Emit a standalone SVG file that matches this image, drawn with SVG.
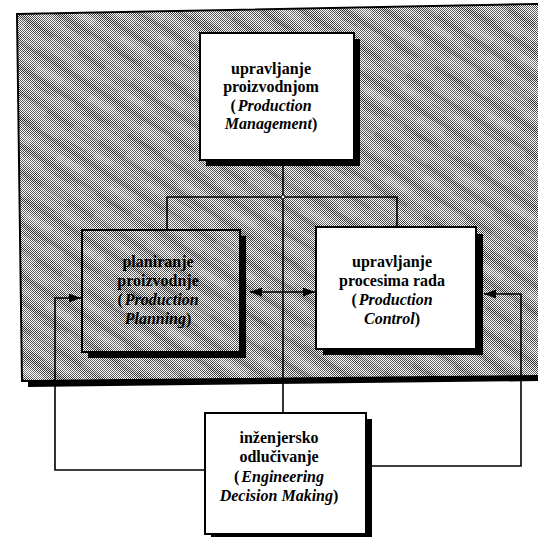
<svg xmlns="http://www.w3.org/2000/svg" width="538" height="537" viewBox="0 0 538 537">
  <defs>
    <!-- 1px dither (50% grey) -->
    <pattern id="dither" width="2" height="2" patternUnits="userSpaceOnUse">
      <rect width="2" height="2" fill="#ffffff"/>
      <rect x="0" y="0" width="1" height="1" fill="#000000"/>
      <rect x="1" y="1" width="1" height="1" fill="#000000"/>
    </pattern>
    <!-- diagonal streaks over the dither -->
    <pattern id="streaks" width="22" height="22" patternUnits="userSpaceOnUse" patternTransform="rotate(32)">
      <rect width="22" height="22" fill="#ffffff" fill-opacity="0.24"/>
      <rect x="0" y="0" width="22" height="5" fill="#000000" fill-opacity="0.14"/>
      <rect x="0" y="10" width="22" height="7" fill="#ffffff" fill-opacity="0.18"/>
    </pattern>
    <!-- softer, wider mottling -->
    <pattern id="mottle" width="60" height="34" patternUnits="userSpaceOnUse" patternTransform="rotate(28)">
      <rect x="4" y="6" width="30" height="8" fill="#ffffff" fill-opacity="0.16"/>
      <rect x="36" y="22" width="20" height="6" fill="#ffffff" fill-opacity="0.14"/>
      <rect x="10" y="24" width="18" height="3" fill="#000000" fill-opacity="0.1"/>
    </pattern>
    <marker id="arrow" viewBox="0 0 12 9" markerWidth="12" markerHeight="9" refX="12" refY="4.5" orient="auto-start-reverse" markerUnits="userSpaceOnUse">
      <path d="M0,0 L12,4.5 L0,9 z" fill="#000"/>
    </marker>
    <style>
      .frame { fill: url(#dither); stroke: #000; stroke-width: 2; }
      .streak { fill: url(#streaks); }
      .mottle { fill: url(#mottle); }
      .shadow { fill: #000; }
      .box { fill: #fff; stroke: #000; stroke-width: 2; }
      .hbox { fill: url(#dither); stroke: #000; stroke-width: 2; }
      .conn { fill: none; stroke: #000; stroke-width: 1.6; }
      .arr { fill: none; stroke: #000; stroke-width: 1.6; }
      text { font-family: "Liberation Serif", "Times New Roman", "DejaVu Serif", serif; font-size: 16px; font-weight: bold; text-anchor: middle; fill: #000; }
      .it { font-style: italic; }
    </style>
  </defs>

  <!-- shaded system frame -->
  <g id="frame">
    <polygon class="shadow" points="28,381 540,375 540,381 28,387"/>
    <polygon class="frame" points="17,14 540,4 540,376 22,381"/>
    <polygon class="streak" points="18,15 540,5 540,375 23,380"/>
    <polygon class="mottle" points="18,15 540,5 540,375 23,380"/>
  </g>

  <!-- connectors -->
  <g id="connectors">
    <path class="conn" d="M283,166 V413"/>
    <path class="conn" d="M167,230 V197 H397 V227"/>
    <circle cx="283" cy="197" r="2" fill="#fff" stroke="#000" stroke-width="1"/>
    <line class="arr" x1="250" y1="292" x2="315" y2="292" marker-start="url(#arrow)" marker-end="url(#arrow)"/>
    <path class="arr" d="M205,470 H55 V298 H81" marker-end="url(#arrow)"/>
    <path class="arr" d="M366,466 H521 V294 H484" marker-end="url(#arrow)"/>
  </g>

  <g id="production-management">
    <rect class="shadow" x="206" y="39" width="154" height="127"/>
    <rect class="box" x="200" y="33" width="154" height="127"/>
    <text x="271" y="74">upravljanje</text>
    <text x="271" y="92">proizvodnjom</text>
    <text x="271" y="111">(<tspan class="it" dx="2">Production</tspan></text>
    <text x="271" y="129"><tspan class="it">Management</tspan>)</text>
  </g>

  <g id="production-planning">
    <rect class="shadow" x="88" y="236" width="158" height="122"/>
    <rect class="hbox" x="82" y="230" width="158" height="122"/>
    <rect class="streak" x="83" y="231" width="156" height="120"/>
    <rect class="mottle" x="83" y="231" width="156" height="120"/>
    <text x="158" y="267">planiranje</text>
    <text x="158" y="286">proizvodnje</text>
    <text x="158" y="305">(<tspan class="it" dx="2">Production</tspan></text>
    <text x="158" y="324"><tspan class="it">Planning</tspan>)</text>
  </g>

  <g id="production-control">
    <rect class="shadow" x="323" y="234" width="160" height="121"/>
    <rect class="box" x="316" y="227" width="160" height="122"/>
    <text x="392" y="267">upravljanje</text>
    <text x="392" y="286">procesima rada</text>
    <text x="392" y="305">(<tspan class="it" dx="2">Production</tspan></text>
    <text x="392" y="324"><tspan class="it">Control</tspan>)</text>
  </g>

  <g id="engineering-decision-making">
    <rect class="shadow" x="211" y="419" width="161" height="121"/>
    <rect class="box" x="205" y="413" width="161" height="121"/>
    <text x="279" y="443">inženjersko</text>
    <text x="279" y="462">odlučivanje</text>
    <text x="279" y="482">(<tspan class="it" dx="2">Engineering</tspan></text>
    <text x="279" y="501"><tspan class="it">Decision Making</tspan>)</text>
  </g>
</svg>
